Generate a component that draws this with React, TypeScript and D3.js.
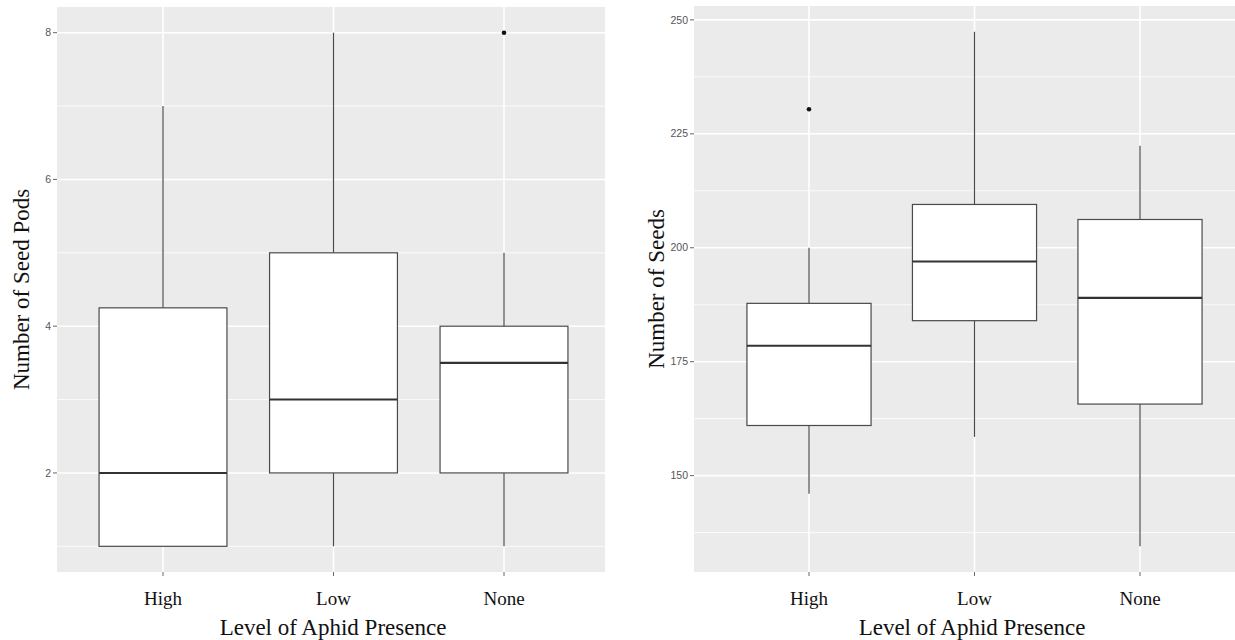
import { useMemo } from "react";
import * as d3 from "d3";

// categories shared by both panels
const groups = ["High", "Low", "None"];

// left panel: seed pods (lower whisker, Q1, median, Q3, upper whisker)
const podsLow = [1, 1, 1];
const podsQ1 = [1, 2, 2];
const podsMedian = [2, 3, 3.5];
const podsQ3 = [4.25, 5, 4];
const podsHigh = [7, 8, 5];
const podsOutliers = [[], [], [8]];
const podsTicks = [2, 4, 6, 8];

// right panel: seeds
const seedsLow = [146, 158.5, 134.5];
const seedsQ1 = [161, 184, 165.7];
const seedsMedian = [178.5, 197, 189];
const seedsQ3 = [187.8, 209.5, 206.2];
const seedsHigh = [200, 247.4, 222.4];
const seedsOutliers = [[230.4], [], []];
const seedsTicks = [150, 175, 200, 225, 250];

const W = 1235;
const H = 640;
const BG = "#EBEBEB";
const INK = "#4a4a4a";
const SERIF = "'Liberation Serif', 'Times New Roman', serif";
const SANS = "'Liberation Sans', Arial, sans-serif";

type PanelProps = {
  left: number; right: number; top: number; bottom: number;
  firstX: number; lastX: number;
  lo: number[]; q1: number[]; med: number[]; q3: number[]; hi: number[];
  outliers: number[][];
  ticks: number[];
  yTitle: string;
  yTitleX: number;
  xTitleX: number;
};

const Panel = (p: PanelProps) => {
  const all = [...p.lo, ...p.hi, ...p.outliers.flat()];
  const [mn, mx] = d3.extent(all) as [number, number];
  const pad = (mx - mn) * 0.05;
  const y = d3.scaleLinear().domain([mn - pad, mx + pad]).range([p.bottom, p.top]);
  const x = d3.scalePoint().domain(groups).range([p.firstX, p.lastX]);
  const bw = x.step() * 0.75;

  const step = p.ticks[1] - p.ticks[0];
  const minor = d3.range(p.ticks[0] - step / 2, p.ticks[p.ticks.length - 1] + step, step)
    .filter((v) => y(v) > p.top && y(v) < p.bottom);

  return (
    <g>
      <rect x={p.left} y={p.top} width={p.right - p.left} height={p.bottom - p.top} fill={BG} />
      {minor.map((v) => (
        <line key={"mi" + v} x1={p.left} x2={p.right} y1={y(v)} y2={y(v)} stroke="#fff" strokeWidth={0.8} />
      ))}
      {p.ticks.map((v) => (
        <line key={"ma" + v} x1={p.left} x2={p.right} y1={y(v)} y2={y(v)} stroke="#fff" strokeWidth={1.6} />
      ))}
      {groups.map((g) => (
        <line key={"v" + g} x1={x(g)} x2={x(g)} y1={p.top} y2={p.bottom} stroke="#fff" strokeWidth={1.6} />
      ))}

      {groups.map((g, i) => {
        const c = x(g) as number;
        return (
          <g key={g}>
            <line x1={c} x2={c} y1={y(p.hi[i])} y2={y(p.q3[i])} stroke={INK} strokeWidth={1.2} />
            <line x1={c} x2={c} y1={y(p.q1[i])} y2={y(p.lo[i])} stroke={INK} strokeWidth={1.2} />
            <rect x={c - bw / 2} y={y(p.q3[i])} width={bw} height={y(p.q1[i]) - y(p.q3[i])}
              fill="#fff" stroke={INK} strokeWidth={1.2} />
            <line x1={c - bw / 2} x2={c + bw / 2} y1={y(p.med[i])} y2={y(p.med[i])} stroke="#333" strokeWidth={2.1} />
            {p.outliers[i].map((o, k) => (
              <circle key={k} cx={c} cy={y(o)} r={2.3} fill="#111" />
            ))}
          </g>
        );
      })}

      {p.ticks.map((v) => (
        <g key={"t" + v}>
          <line x1={p.left - 4} x2={p.left} y1={y(v)} y2={y(v)} stroke="#666" strokeWidth={1} />
          <text x={p.left - 6} y={y(v)} dy="0.35em" textAnchor="end" fontFamily={SANS} fontSize={10.5} fill="#555">
            {v}
          </text>
        </g>
      ))}
      {groups.map((g) => (
        <g key={"xt" + g}>
          <line x1={x(g)} x2={x(g)} y1={p.bottom} y2={p.bottom + 4} stroke="#666" strokeWidth={1} />
          <text x={x(g)} y={605} textAnchor="middle" fontFamily={SERIF} fontSize={19} fill="#111">
            {g}
          </text>
        </g>
      ))}

      <text x={p.xTitleX} y={635} textAnchor="middle" fontFamily={SERIF} fontSize={23} fill="#111">
        Level of Aphid Presence
      </text>
      <text transform={`translate(${p.yTitleX},${(p.top + p.bottom) / 2}) rotate(-90)`} textAnchor="middle"
        fontFamily={SERIF} fontSize={23} fill="#111">
        {p.yTitle}
      </text>
    </g>
  );
};

export default function App() {
  const panels = useMemo(() => [
    {
      left: 57, right: 605, top: 7, bottom: 572, firstX: 163, lastX: 504,
      lo: podsLow, q1: podsQ1, med: podsMedian, q3: podsQ3, hi: podsHigh,
      outliers: podsOutliers, ticks: podsTicks, yTitle: "Number of Seed Pods", yTitleX: 29, xTitleX: 333,
    },
    {
      left: 694, right: 1240, top: 6, bottom: 572, firstX: 809, lastX: 1140,
      lo: seedsLow, q1: seedsQ1, med: seedsMedian, q3: seedsQ3, hi: seedsHigh,
      outliers: seedsOutliers, ticks: seedsTicks, yTitle: "Number of Seeds", yTitleX: 664, xTitleX: 972,
    },
  ], []);

  return (
    <svg width={W} height={H} style={{ position: "absolute", left: 0, top: 0, background: "#fff" }}>
      {panels.map((p, i) => (
        <Panel key={i} {...p} />
      ))}
    </svg>
  );
}
